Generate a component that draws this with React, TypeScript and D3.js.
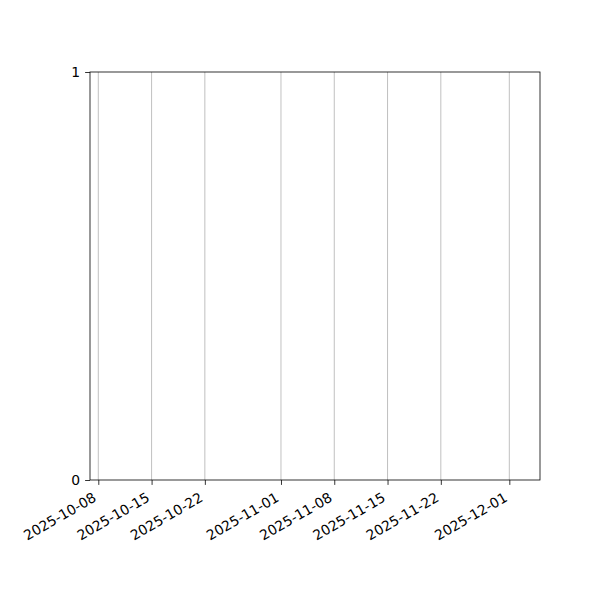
import { FC, useEffect, useRef } from 'react';
import * as d3 from 'd3';

// x range shown (slightly padded around the tick dates)
const xDomain = ['2025-10-06T21:50:00', '2025-12-05T00:45:00'];
const xTickDates = [
  '2025-10-08',
  '2025-10-15',
  '2025-10-22',
  '2025-11-01',
  '2025-11-08',
  '2025-11-15',
  '2025-11-22',
  '2025-12-01',
];
const yDomain = [0, 1];
const yTicks = [0, 1];

const FONT = 'DejaVu Sans, sans-serif';

const App: FC = () => {
  const svgRef = useRef<SVGSVGElement>(null);

  useEffect(() => {
    if (!svgRef.current) return;

    const margin = { top: 72, right: 60, bottom: 120, left: 90 };
    const width = 600 - margin.left - margin.right;
    const height = 600 - margin.top - margin.bottom;

    d3.select(svgRef.current).selectAll('*').remove();

    const svg = d3
      .select(svgRef.current)
      .append('g')
      .attr('transform', `translate(${margin.left},${margin.top})`);

    const parse = (s: string) => new Date(s);

    const x = d3
      .scaleTime()
      .domain(xDomain.map(parse) as [Date, Date])
      .range([0, width]);

    const y = d3.scaleLinear().domain(yDomain).range([height, 0]);

    const ticks = xTickDates.map(parse);

    // vertical grid lines
    svg
      .selectAll('.grid')
      .data(ticks)
      .enter()
      .append('line')
      .attr('class', 'grid')
      .attr('x1', d => x(d))
      .attr('x2', d => x(d))
      .attr('y1', 0)
      .attr('y2', height)
      .attr('stroke', '#b0b0b0')
      .attr('stroke-width', 0.8);

    // frame
    svg
      .append('rect')
      .attr('x', 0)
      .attr('y', 0)
      .attr('width', width)
      .attr('height', height)
      .attr('fill', 'none')
      .attr('stroke', 'black')
      .attr('stroke-width', 0.8);

    // x axis
    const xAxis = svg
      .append('g')
      .attr('transform', `translate(0,${height})`)
      .call(
        d3
          .axisBottom(x)
          .tickValues(ticks)
          .tickSize(4.9)
          .tickFormat(d => d3.timeFormat('%Y-%m-%d')(d as Date))
      );
    xAxis.select('.domain').remove();
    xAxis.selectAll('.tick line').attr('stroke', 'black').attr('stroke-width', 0.8);
    xAxis
      .selectAll<SVGTextElement, Date>('.tick text')
      .attr('font-family', FONT)
      .attr('font-size', 13.9)
      .attr('fill', 'black')
      .attr('text-anchor', 'end')
      .attr('y', 0)
      .attr('dy', '-0.22em')
      .attr('transform', 'translate(0,23) rotate(-30)');

    // y axis
    const yAxis = svg
      .append('g')
      .call(d3.axisLeft(y).tickValues(yTicks).tickSize(4.9).tickPadding(4.9).tickFormat(d3.format('d')));
    yAxis.select('.domain').remove();
    yAxis.selectAll('.tick line').attr('stroke', 'black').attr('stroke-width', 0.8);
    yAxis
      .selectAll('.tick text')
      .attr('font-family', FONT)
      .attr('font-size', 13.9)
      .attr('fill', 'black');
  }, []);

  return (
    <svg
      ref={svgRef}
      width={600}
      height={600}
      style={{ position: 'absolute', left: 0, top: 0, background: 'white' }}
    />
  );
};

export default App;
